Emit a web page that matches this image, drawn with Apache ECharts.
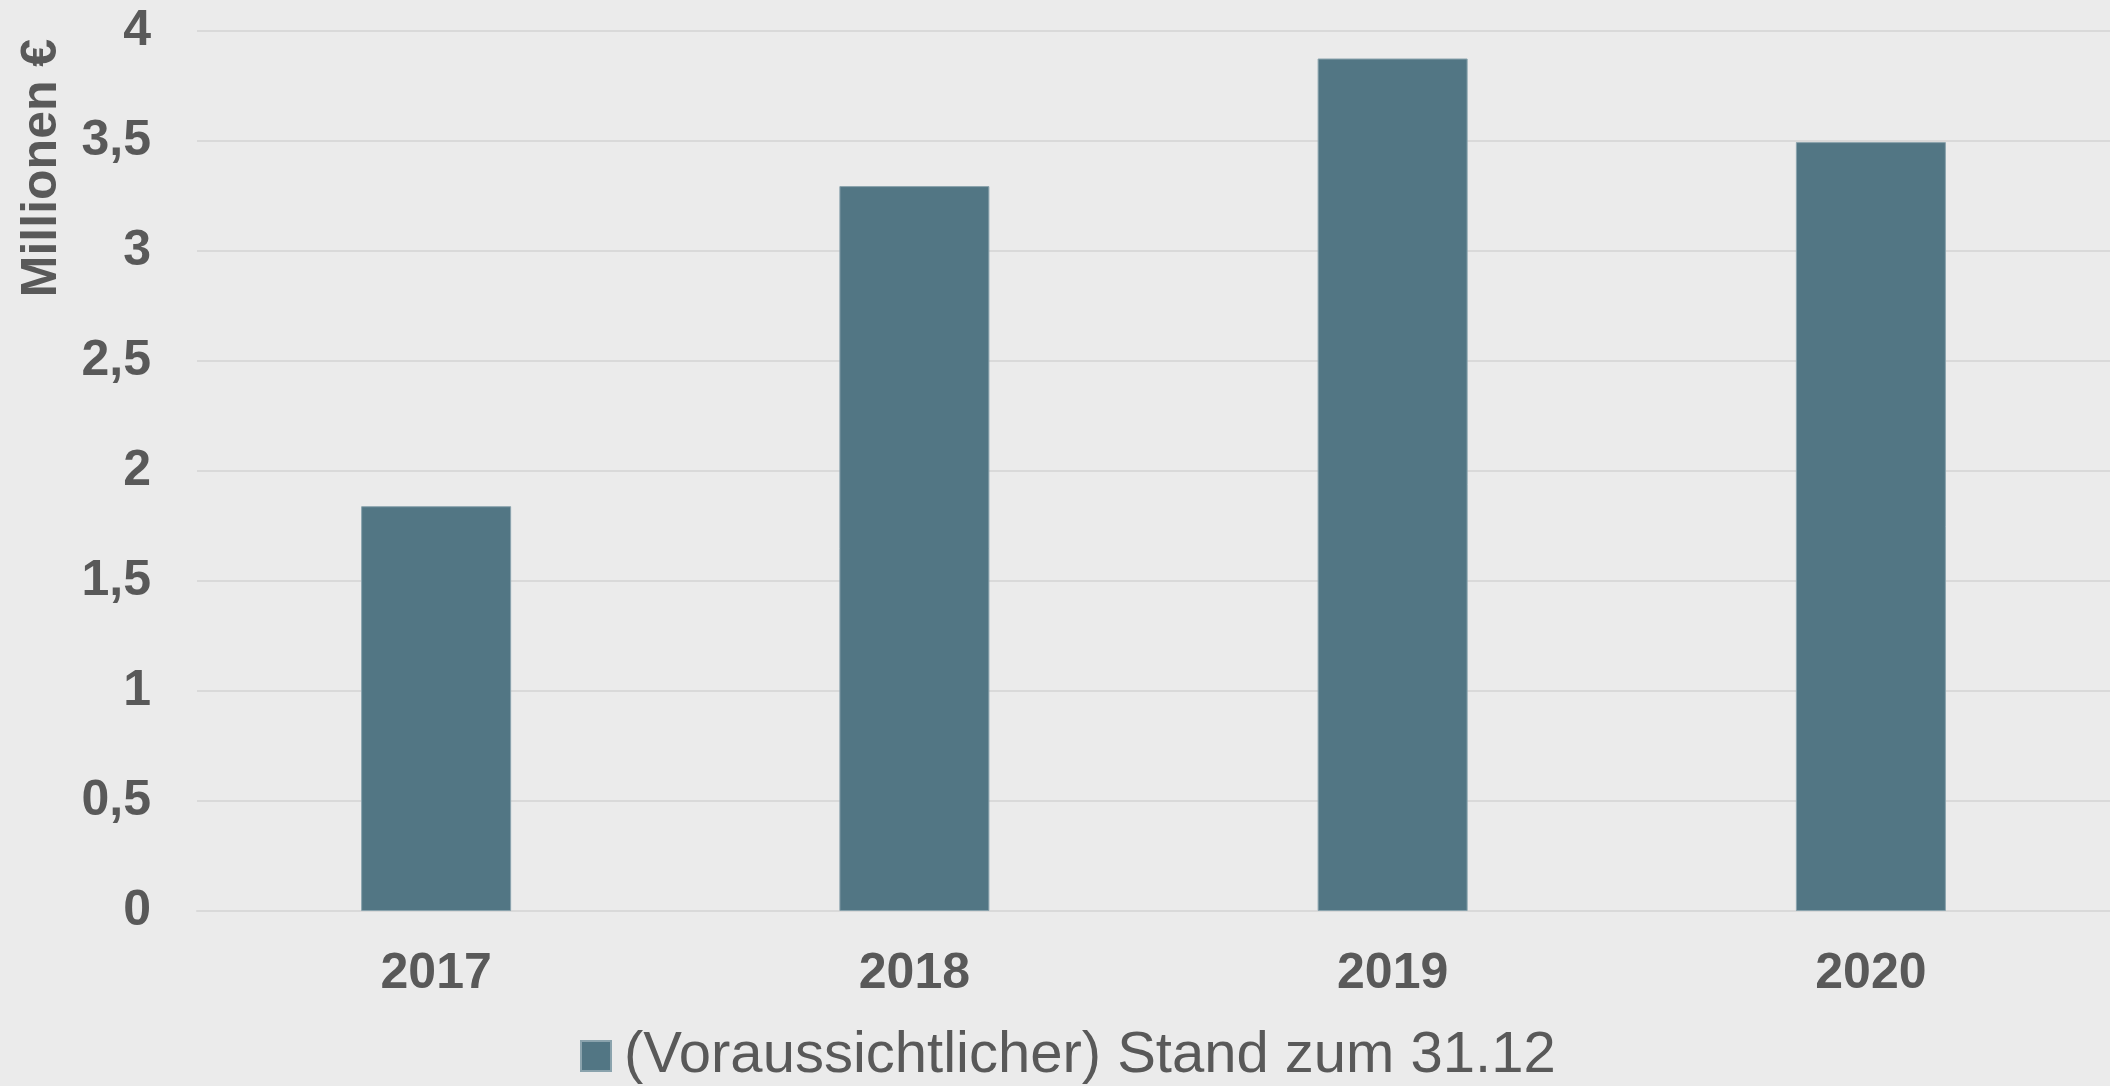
<!DOCTYPE html>
<html>
<head>
<meta charset="utf-8">
<script src="https://cdn.jsdelivr.net/npm/echarts@6/dist/echarts.min.js"></script>
<style>
html,body{margin:0;padding:0;background:#ebebeb;}
#chart{width:2110px;height:1086px;}
</style>
</head>
<body>
<div id="chart"></div>
<script>
const categories = ['2017', '2018', '2019', '2020'];
const values = [1.84, 3.295, 3.875, 3.495];
const seriesName = '(Voraussichtlicher) Stand zum 31.12';
const axisTitle = 'Millionen €';

const chart = echarts.init(document.getElementById('chart'));
const txt = '#595959';
chart.setOption({
  backgroundColor: '#ebebeb',
  animation: false,
  grid: { left: 197, right: 0, top: 31, bottom: 175, containLabel: false },
  legend: {
    data: [seriesName],
    bottom: -4,
    left: 575,
    itemWidth: 30,
    itemHeight: 30,
    itemGap: 10,
    icon: 'rect',
    textStyle: { fontFamily: 'Liberation Sans', fontSize: 58, color: txt, padding: [0, 0, 0, 8] }
  },
  xAxis: {
    type: 'category',
    data: categories,
    axisLine: { show: true, lineStyle: { color: '#d9d9d9', width: 2 } },
    axisTick: { show: false },
    axisLabel: { color: txt, fontFamily: 'Liberation Sans', fontWeight: 'bold', fontSize: 50, margin: 38 }
  },
  yAxis: {
    type: 'value',
    min: 0, max: 4, interval: 0.5,
    axisLine: { show: false },
    axisTick: { show: false },
    splitLine: { lineStyle: { color: '#d9d9d9', width: 2 } },
    axisLabel: {
      color: txt, fontFamily: 'Liberation Sans', fontWeight: 'bold', fontSize: 50, margin: 46,
      formatter: v => String(v).replace('.', ',')
    }
  },
  graphic: [{
    type: 'text',
    x: 42, y: 168,
    rotation: Math.PI / 2,
    style: {
      text: axisTitle,
      fill: txt,
      font: 'bold 50px "Liberation Sans"',
      textAlign: 'center',
      textVerticalAlign: 'middle'
    }
  }],
  series: [{
    name: seriesName,
    type: 'bar',
    data: values,
    barWidth: 150,
    itemStyle: { color: '#527684', borderColor: '#8aa3ad', borderWidth: 1 }
  }]
});
</script>
</body>
</html>
